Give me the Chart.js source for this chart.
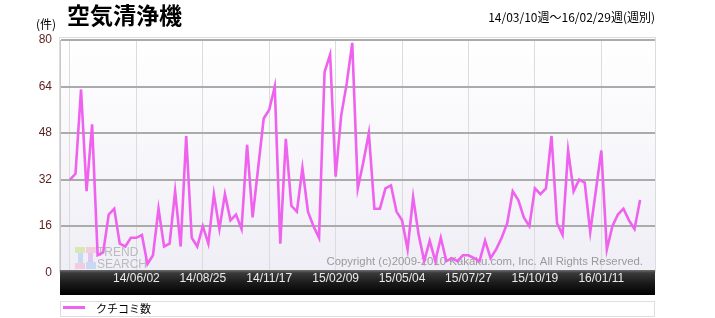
<!DOCTYPE html>
<html lang="ja">
<head>
<meta charset="utf-8">
<title>空気清浄機 クチコミ数</title>
<script src="https://cdn.jsdelivr.net/npm/chart.js@4.4.1/dist/chart.umd.min.js"></script>
<style>
  html, body { margin: 0; padding: 0; background: #fff; }
  #wrap { position: relative; width: 715px; height: 318px; }
</style>
</head>
<body>
<div id="wrap"><canvas id="chart-trend" width="715" height="318"></canvas></div>
<script>
(function () {
  'use strict';

  // 週別クチコミ数 14/03/10週 ～ 16/02/29週 (104週)
  const WEEK_INDEX = [
    0, 1, 2, 3, 4, 5, 6, 7, 8, 9, 10, 11, 12, 13, 14, 15, 16, 17, 18, 19,
    20, 21, 22, 23, 24, 25, 26, 27, 28, 29, 30, 31, 32, 33, 34, 35, 36, 37, 38, 39,
    40, 41, 42, 43, 44, 45, 46, 47, 48, 49, 50, 51, 52, 53, 54, 55, 56, 57, 58, 59,
    60, 61, 62, 63, 64, 65, 66, 67, 68, 69, 70, 71, 72, 73, 74, 75, 76, 77, 78, 79,
    80, 81, 82, 83, 84, 85, 86, 87, 88, 89, 90, 91, 92, 93, 94, 95, 96, 97, 98, 99,
    100, 101, 102, 103
  ];
  const REVIEW_COUNTS = [
    32, 34, 63, 28, 51, 6, 7, 20, 22, 10, 9, 12, 12, 13, 3, 6, 22, 9, 10, 28,
    9, 47, 12, 9, 16, 10, 27, 15, 27, 18, 20, 15, 44, 19, 36, 53, 56, 64, 10, 46,
    23, 21, 36, 21, 16, 12, 69, 75, 33, 54, 65, 79, 29, 38, 48, 22, 22, 29, 30, 21,
    18, 8, 26, 13, 4, 11, 4, 12, 4, 5, 4, 6, 6, 5, 4, 11, 5, 8, 12, 17,
    28, 25, 19, 16, 29, 27, 29, 47, 17, 13, 42, 28, 32, 31, 14, 28, 42, 8, 16, 20,
    22, 18, 15, 25
  ];
  const X_TICK_POS = [0, 12, 24, 36, 48, 60, 72, 84, 96];
  const X_TICK_LABELS = ['', '14/06/02', '14/08/25', '14/11/17', '15/02/09', '15/05/04', '15/07/27', '15/10/19', '16/01/11'];
  const Y_TICKS = [0, 16, 32, 48, 64, 80];

  const LINE_COLOR = '#ee62ee';
  const JP_FONT = '"Noto Sans CJK JP", "Noto Sans", sans-serif';
  const NUM_FONT = '"Liberation Sans", Arial, sans-serif';

  var points = WEEK_INDEX.map(function (w, i) { return { x: w, y: REVIEW_COUNTS[i] }; });

  // 背景 (プロット領域のグラデーション)
  var backgroundPlugin = {
    id: 'plotBackground',
    beforeDraw: function (chart) {
      var ctx = chart.ctx;
      var a = chart.chartArea;
      ctx.save();
      ctx.fillStyle = '#fff';
      ctx.fillRect(0, 0, chart.width, chart.height);
      var g = ctx.createLinearGradient(0, a.top, 0, a.bottom);
      g.addColorStop(0, '#ffffff');
      g.addColorStop(1, '#efeef6');
      ctx.fillStyle = g;
      ctx.fillRect(a.left, a.top - 2, a.right - a.left, a.bottom - a.top + 2);
      ctx.strokeStyle = '#dcdcdc';
      ctx.lineWidth = 1;
      ctx.strokeRect(a.left - 0.5, a.top - 2.5, a.right - a.left + 1, a.bottom - a.top + 2);
      ctx.restore();
    },
    // ウォーターマーク (線の下に描く)
    beforeDatasetsDraw: function (chart) {
      var ctx = chart.ctx;
      var a = chart.chartArea;
      ctx.save();
      ctx.globalAlpha = 0.55;
      var blocks = [
        [75, 247, 10, 6, '#c8e07a'], [86, 247, 10, 6, '#f4b0c8'],
        [78, 253, 5, 10, '#a8c8f0'], [88, 253, 5, 9, '#d0a8e8'],
        [75, 263, 10, 6, '#f4b0c8'], [86, 262, 10, 7, '#a8c8f0']
      ];
      blocks.forEach(function (b) {
        ctx.fillStyle = b[4];
        ctx.fillRect(b[0], b[1], b[2], b[3]);
      });
      ctx.globalAlpha = 0.7;
      ctx.fillStyle = '#a4a4a4';
      ctx.font = '12px ' + NUM_FONT;
      ctx.textBaseline = 'middle';
      ctx.textAlign = 'left';
      ctx.fillText('TREND', 97, 253);
      ctx.fillText('SEARCH', 97, 264.5);
      ctx.globalAlpha = 1;
      ctx.fillStyle = '#9a9a9a';
      ctx.font = '11.4px ' + NUM_FONT;
      ctx.textAlign = 'right';
      ctx.fillText('Copyright (c)2009-2010 Kakaku.com, Inc. All Rights Reserved.', a.right - 12, 262);
      ctx.restore();
    },
    afterDraw: function (chart) {
      var ctx = chart.ctx;
      var a = chart.chartArea;
      var xs = chart.scales.x;
      ctx.save();

      // 下部の黒帯と日付ラベル
      var bandTop = 270, bandBottom = 295;
      var g = ctx.createLinearGradient(0, bandTop, 0, bandBottom);
      g.addColorStop(0, '#6e6e6e');
      g.addColorStop(0.12, '#3a3a3a');
      g.addColorStop(0.5, '#1c1c1c');
      g.addColorStop(1, '#000000');
      ctx.fillStyle = g;
      ctx.fillRect(a.left, bandTop, a.right - a.left, bandBottom - bandTop);
      ctx.fillStyle = '#ececec';
      ctx.font = '12px ' + NUM_FONT;
      ctx.textAlign = 'center';
      ctx.textBaseline = 'middle';
      X_TICK_POS.forEach(function (v, i) {
        if (!X_TICK_LABELS[i]) return;
        ctx.fillText(X_TICK_LABELS[i], xs.getPixelForValue(v), 278.5);
      });

      // タイトル・単位・期間
      ctx.fillStyle = '#000';
      ctx.textAlign = 'left';
      ctx.textBaseline = 'middle';
      ctx.font = 'bold 23px ' + JP_FONT;
      ctx.fillText('空気清浄機', 67, 15);
      ctx.font = '12px ' + JP_FONT;
      ctx.fillText('(件)', 36, 24);
      ctx.textAlign = 'right';
      ctx.fillText('14/03/10週～16/02/29週(週別)', 655, 17);

      // 凡例
      ctx.fillStyle = '#fff';
      ctx.fillRect(a.left, 301, a.right - a.left, 16);
      ctx.strokeStyle = '#dedede';
      ctx.lineWidth = 1;
      ctx.strokeRect(a.left + 0.5, 301.5, a.right - a.left - 1, 15);
      ctx.strokeStyle = LINE_COLOR;
      ctx.lineWidth = 3;
      ctx.beginPath();
      ctx.moveTo(63, 307.5);
      ctx.lineTo(85, 307.5);
      ctx.stroke();
      ctx.fillStyle = '#000';
      ctx.textAlign = 'left';
      ctx.font = '11px ' + JP_FONT;
      ctx.fillText('クチコミ数', 96, 309);
      ctx.restore();
    }
  };

  function initChart() {
    if (typeof Chart === 'undefined') return;
    var el = document.getElementById('chart-trend');
    new Chart(el, {
      type: 'line',
      data: {
        datasets: [{
          label: 'クチコミ数',
          data: points,
          borderColor: LINE_COLOR,
          borderWidth: 2.6,
          pointRadius: 0,
          tension: 0,
          fill: false
        }]
      },
      options: {
        responsive: false,
        animation: false,
        events: [],
        layout: { padding: { left: 0, top: 40, right: 60, bottom: 45.3 } },
        plugins: {
          legend: { display: false },
          tooltip: { enabled: false }
        },
        scales: {
          x: {
            type: 'linear',
            min: -1.8,
            max: 105.7,
            afterBuildTicks: function (scale) {
              scale.ticks = X_TICK_POS.map(function (v) { return { value: v }; });
            },
            afterFit: function (scale) { scale.height = 0; },
            ticks: { display: false },
            grid: { color: '#dcdcdc', lineWidth: 1, drawTicks: false },
            border: { display: false }
          },
          y: {
            min: 0,
            max: 80,
            afterBuildTicks: function (scale) {
              scale.ticks = Y_TICKS.map(function (v) { return { value: v }; });
            },
            afterFit: function (scale) { scale.width = 60; },
            ticks: {
              color: '#5a1e1e',
              padding: 8,
              font: { family: NUM_FONT, size: 12 }
            },
            grid: { color: '#ababab', lineWidth: 2, drawTicks: false },
            border: { display: true, color: '#c8c8c8', width: 1 }
          }
        }
      },
      plugins: [backgroundPlugin]
    });
  }

  if (document.readyState === 'loading') {
    document.addEventListener('DOMContentLoaded', initChart);
  } else {
    initChart();
  }
})();
</script>
</body>
</html>
